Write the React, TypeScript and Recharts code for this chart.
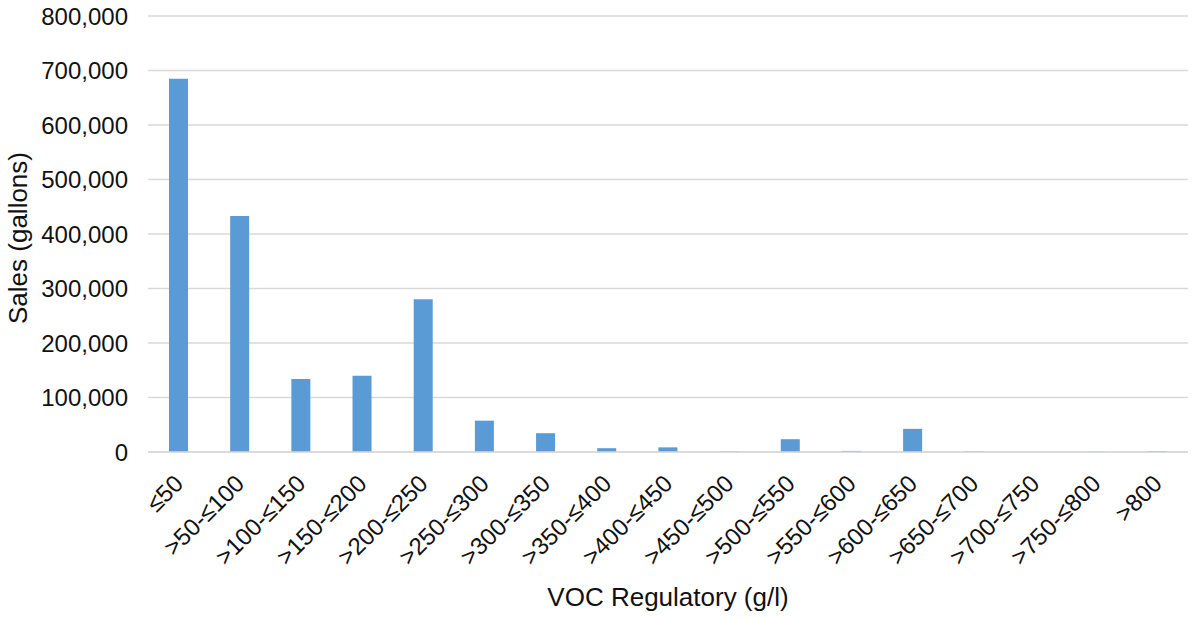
import React from "react";
import { BarChart, Bar, XAxis, YAxis, CartesianGrid } from "recharts";

const categories = [
  "≤50", ">50-≤100", ">100-≤150", ">150-≤200", ">200-≤250", ">250-≤300",
  ">300-≤350", ">350-≤400", ">400-≤450", ">450-≤500", ">500-≤550", ">550-≤600",
  ">600-≤650", ">650-≤700", ">700-≤750", ">750-≤800", ">800",
];
const sales = [
  685000, 433000, 134000, 140000, 280500, 57500,
  34500, 7000, 8500, 1000, 23500, 2000,
  42500, 1000, 0, 500, 1500,
];
const yTicks = [0, 100000, 200000, 300000, 400000, 500000, 600000, 700000, 800000];

const data = categories.map((c, i) => ({ category: c, sales: sales[i] }));

const FONT = "'Liberation Sans', Arial, sans-serif";

const XTick = (props: any) => {
  const { x, y, payload } = props;
  const ax = x + 6;
  const ay = y + 33;
  return (
    <text
      x={ax}
      y={ay}
      transform={`rotate(-45, ${ax}, ${ay})`}
      textAnchor="end"
      fontSize={24}
      fontFamily={FONT}
      fill="#111"
    >
      {payload.value}
    </text>
  );
};

export default function App() {
  return (
    <div style={{ position: "absolute", left: 0, top: 0, width: 1193, height: 618, background: "#fff" }}>
      <BarChart
        width={1193}
        height={618}
        data={data}
        margin={{ top: 16, right: 5, bottom: 0, left: 0 }}
        barCategoryGap={0}
      >
        <CartesianGrid vertical={false} stroke="#d9d9d9" strokeWidth={1.3} />
        <XAxis
          dataKey="category"
          interval={0}
          height={166}
          tickLine={false}
          tickSize={0}
          tickMargin={0}
          axisLine={{ stroke: "#d9d9d9", strokeWidth: 1.3 }}
          tick={<XTick />}
          label={{
            content: (p: any) => {
              const vb = p.viewBox;
              return (
                <text
                  x={vb.x + vb.width / 2}
                  y={606}
                  textAnchor="middle"
                  fontSize={26}
                  fontFamily={FONT}
                  fill="#111"
                >
                  VOC Regulatory (g/l)
                </text>
              );
            },
          }}
        />
        <YAxis
          width={148}
          domain={[0, 800000]}
          ticks={yTicks}
          interval={0}
          axisLine={false}
          tickLine={false}
          tickSize={0}
          tickMargin={20}
          tick={{ fontSize: 24, fontFamily: FONT, fill: "#111" }}
          tickFormatter={(v: number) => v.toLocaleString("en-US")}
          label={{
            content: (p: any) => {
              const vb = p.viewBox;
              const cy = vb.y + vb.height / 2 + 4;
              return (
                <text
                  x={27}
                  y={cy}
                  transform={`rotate(-90, 27, ${cy})`}
                  textAnchor="middle"
                  fontSize={26}
                  fontFamily={FONT}
                  fill="#111"
                >
                  Sales (gallons)
                </text>
              );
            },
          }}
        />
        <Bar dataKey="sales" fill="#5b9bd5" barSize={19} isAnimationActive={false} />
      </BarChart>
    </div>
  );
}
